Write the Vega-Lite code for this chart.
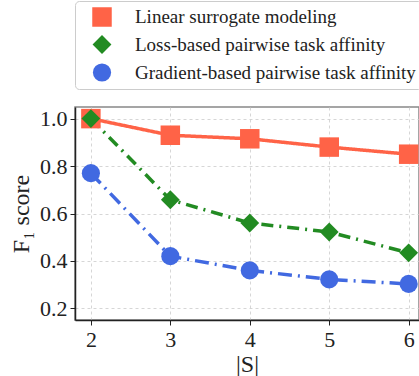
{
  "$schema": "https://vega.github.io/schema/vega-lite/v6.json",
  "width": 344,
  "height": 213,
  "autosize": "none",
  "padding": {"left": 75, "top": 107, "right": 0, "bottom": 56},
  "background": "white",
  "config": {
    "font": "'Liberation Serif', serif",
    "view": {"stroke": "#888888", "strokeWidth": 1.5},
    "axis": {
      "labelFont": "'Liberation Serif', serif",
      "titleFont": "'Liberation Serif', serif",
      "labelFontSize": 22,
      "titleFontSize": 24,
      "labelColor": "#222",
      "titleColor": "#222",
      "titleFontWeight": "normal",
      "domainColor": "#222",
      "domainWidth": 1.5,
      "tickColor": "#222",
      "tickSize": 5,
      "gridColor": "#cccccc",
      "gridDash": [3, 3],
      "gridWidth": 0.8
    },
    "legend": {
      "labelFont": "'Liberation Serif', serif",
      "labelFontSize": 19,
      "labelColor": "#222",
      "labelLimit": 400
    }
  },
  "data": {
    "values": [
      {"s": 2, "f1": 1.0, "method": "Linear surrogate modeling"},
      {"s": 3, "f1": 0.93, "method": "Linear surrogate modeling"},
      {"s": 4, "f1": 0.915, "method": "Linear surrogate modeling"},
      {"s": 5, "f1": 0.88, "method": "Linear surrogate modeling"},
      {"s": 6, "f1": 0.85, "method": "Linear surrogate modeling"},
      {"s": 2, "f1": 1.0, "method": "Loss-based pairwise task affinity"},
      {"s": 3, "f1": 0.658, "method": "Loss-based pairwise task affinity"},
      {"s": 4, "f1": 0.56, "method": "Loss-based pairwise task affinity"},
      {"s": 5, "f1": 0.522, "method": "Loss-based pairwise task affinity"},
      {"s": 6, "f1": 0.434, "method": "Loss-based pairwise task affinity"},
      {"s": 2, "f1": 0.77, "method": "Gradient-based pairwise task affinity"},
      {"s": 3, "f1": 0.42, "method": "Gradient-based pairwise task affinity"},
      {"s": 4, "f1": 0.36, "method": "Gradient-based pairwise task affinity"},
      {"s": 5, "f1": 0.322, "method": "Gradient-based pairwise task affinity"},
      {"s": 6, "f1": 0.303, "method": "Gradient-based pairwise task affinity"}
    ]
  },
  "encoding": {
    "x": {
      "field": "s", "type": "quantitative",
      "scale": {"domain": [1.8, 6.13], "nice": false, "zero": false},
      "axis": {"values": [2, 3, 4, 5, 6], "title": "|S|", "labelPadding": 4, "titlePadding": 2, "labelFont": "'Liberation Serif', serif", "labelFontSize": 22}
    },
    "y": {
      "field": "f1", "type": "quantitative",
      "scale": {"domain": [0.151, 1.049], "nice": false, "zero": false},
      "axis": {"values": [0.2, 0.4, 0.6, 0.8, 1.0], "format": ".1f", "title": "F₁ score", "titlePadding": 6, "labelPadding": 3, "labelFont": "'Liberation Serif', serif", "labelFontSize": 22}
    },
    "color": {
      "field": "method", "type": "nominal",
      "scale": {
        "domain": ["Linear surrogate modeling", "Loss-based pairwise task affinity", "Gradient-based pairwise task affinity"],
        "range": ["#FF6347", "#228B22", "#4169E1"]
      },
      "legend": {
        "title": null,
        "orient": "none",
        "legendX": 0,
        "legendY": -106,
        "symbolSize": 190,
        "symbolStrokeWidth": 0,
        "symbolOffset": 11,
        "labelOffset": 23,
        "rowPadding": 8,
        "padding": 6,
        "offset": 0,
        "strokeColor": "#cccccc",
        "fillColor": "white",
        "cornerRadius": 4
      }
    }
  },
  "layer": [
    {
      "mark": {"type": "line", "strokeWidth": 3.5},
      "encoding": {
        "strokeDash": {
          "field": "method", "type": "nominal", "legend": null,
          "scale": {
            "domain": ["Linear surrogate modeling", "Loss-based pairwise task affinity", "Gradient-based pairwise task affinity"],
            "range": [[1, 0], [12, 6, 2, 6], [14, 6, 2, 6]]
          }
        }
      }
    },
    {
      "mark": {"type": "point", "filled": true, "opacity": 1},
      "encoding": {
        "shape": {
          "field": "method", "type": "nominal",
          "scale": {
            "domain": ["Linear surrogate modeling", "Loss-based pairwise task affinity", "Gradient-based pairwise task affinity"],
            "range": ["square", "diamond", "circle"]
          },
          "legend": {
            "title": null,
            "orient": "none",
            "legendX": 0,
            "legendY": -106,
            "symbolSize": 190,
            "symbolStrokeWidth": 0,
            "symbolOffset": 11,
            "labelOffset": 23,
            "rowPadding": 8,
            "padding": 6,
            "offset": 0,
            "strokeColor": "#cccccc",
            "fillColor": "white",
            "cornerRadius": 4
          }
        },
        "size": {
          "field": "method", "type": "nominal", "legend": null,
          "scale": {
            "domain": ["Linear surrogate modeling", "Loss-based pairwise task affinity", "Gradient-based pairwise task affinity"],
            "range": [380, 330, 260]
          }
        }
      }
    }
  ]
}
